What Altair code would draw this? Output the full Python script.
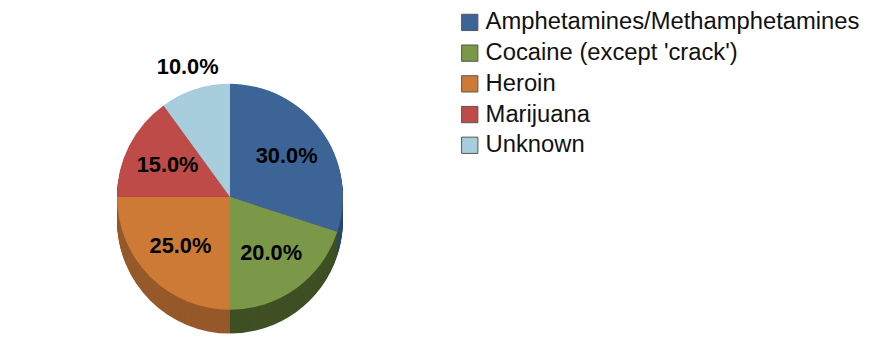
import altair as alt
import pandas as pd
import json

drugs = ["Amphetamines/Methamphetamines", "Cocaine (except 'crack')", "Heroin", "Marijuana", "Unknown"]
shares = [0.30, 0.20, 0.25, 0.15, 0.10]
top_colors = ["#3C6496", "#7A9848", "#CD7A37", "#BE4B48", "#A8CDDC"]
side_colors = ["#2B4870", "#3F5024", "#96592A", "#8C3735", "#7C9AA6"]

df = pd.DataFrame({"drug": drugs, "share": shares, "idx": list(range(len(drugs)))})

W, H = 876, 337
CX, CY = 224, 189
R = 114
DEPTH = 24

base = alt.Chart(df)
theta = alt.Theta("share:Q", stack=True)
order = alt.Order("idx:Q")

side_expr = f"{json.dumps(side_colors)}[indexof({json.dumps(drugs)}, datum.drug)]"

layers = []
for d in range(DEPTH, 0, -1):
    layers.append(
        base.mark_arc(outerRadius=R)
        .transform_calculate(side=side_expr)
        .encode(
            theta=theta,
            order=order,
            fill=alt.Fill("side:N", scale=None),
            x=alt.value(CX),
            y=alt.value(CY + d),
        )
    )

top = base.mark_arc(outerRadius=R).encode(
    theta=theta,
    order=order,
    color=alt.Color(
        "drug:N",
        scale=alt.Scale(domain=drugs, range=top_colors),
        sort=drugs,
        legend=alt.Legend(
            title=None,
            orient="none",
            legendX=454,
            legendY=1,
            symbolType="square",
            symbolSize=270,
            symbolStrokeWidth=1,
            symbolStrokeColor="#555555",
            labelFontSize=24,
            labelFont="Liberation Sans",
            labelColor="#111111",
            labelLimit=500,
            rowPadding=7,
            symbolOffset=0,
            labelOffset=4,
        ),
    ),
    x=alt.value(CX),
    y=alt.value(CY),
)

inner_labels = base.mark_text(
    radius=R * 0.62, font="Liberation Sans", fontSize=22, fontWeight="bold", color="#000000"
).transform_calculate(
    lab="datum.drug == 'Unknown' ? '' : format(datum.share, '.1%')"
).encode(
    theta=theta,
    order=order,
    text="lab:N",
    x=alt.value(CX),
    y=alt.value(CY),
)

outer_labels = base.mark_text(
    radius=R + 24, font="Liberation Sans", fontSize=22, fontWeight="bold", color="#000000"
).transform_calculate(
    lab="datum.drug == 'Unknown' ? format(datum.share, '.1%') : ''"
).encode(
    theta=theta,
    order=order,
    text="lab:N",
    x=alt.value(CX),
    y=alt.value(CY),
)

chart = alt.layer(*layers, top, inner_labels, outer_labels).properties(
    width=W, height=H, autosize="none", padding=0, background="white"
).configure_view(stroke=None)

chart.save("out.html", embed_options={"renderer": "svg", "actions": False})
